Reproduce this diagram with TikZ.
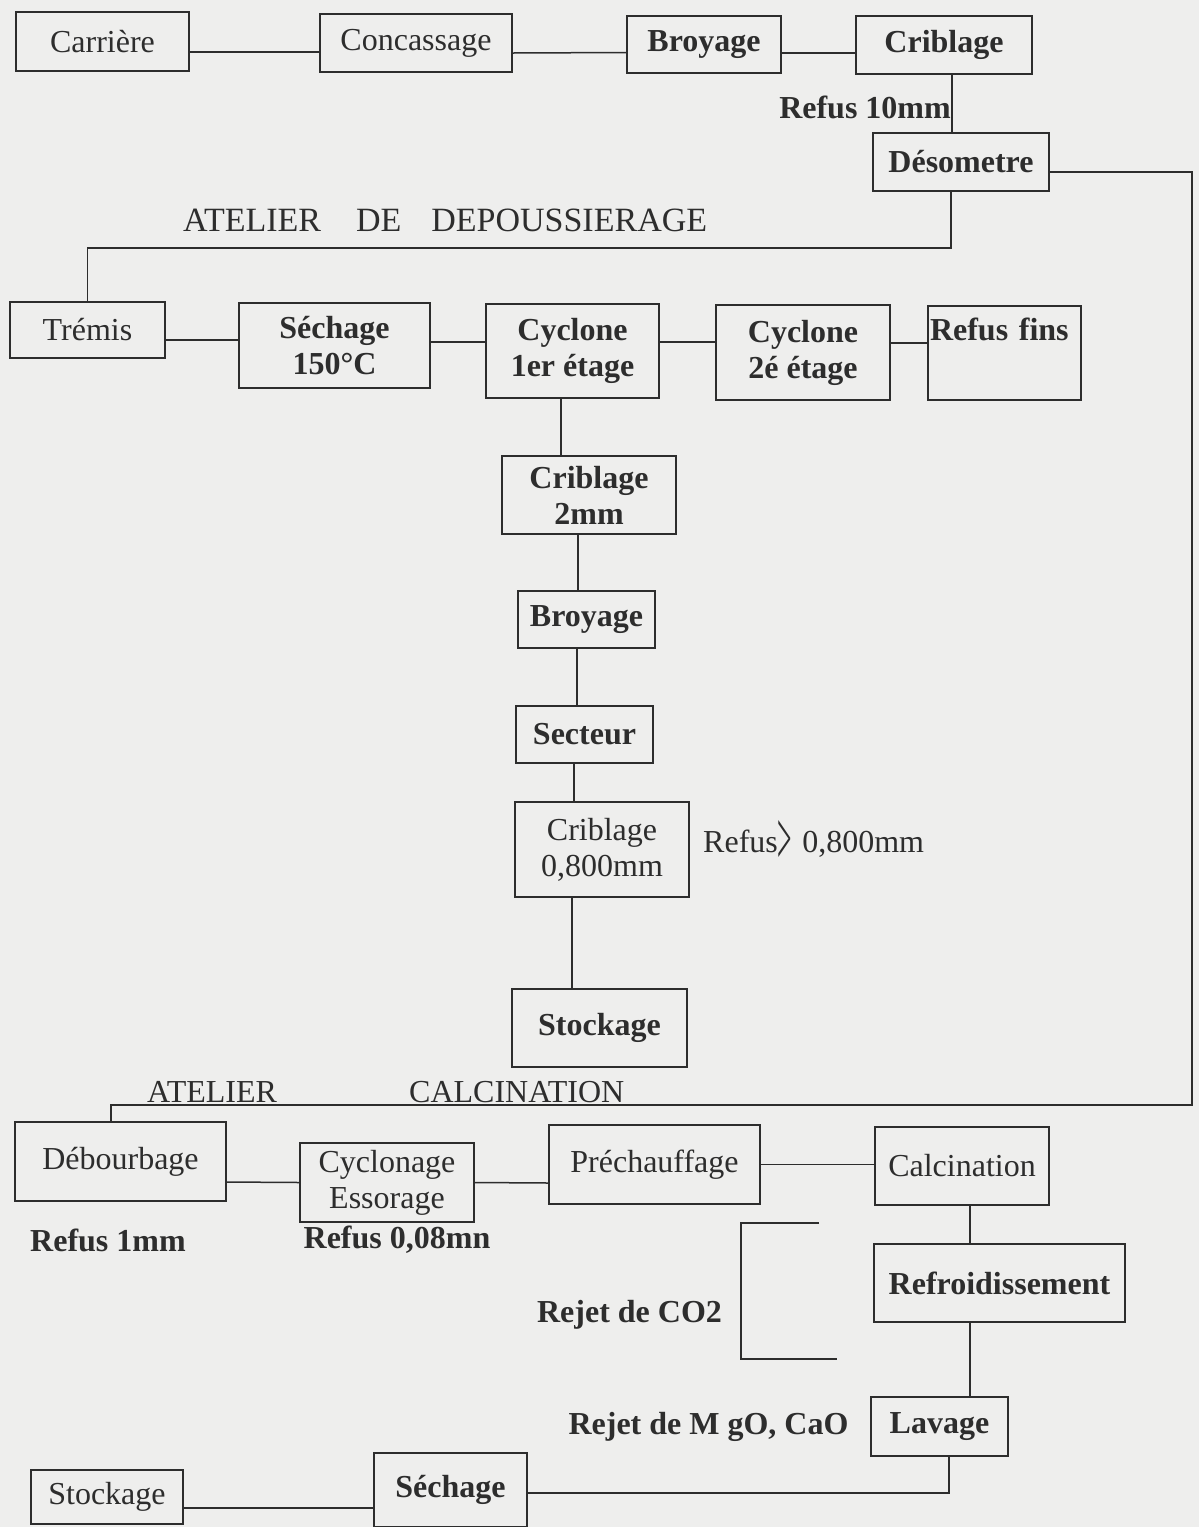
\documentclass[tikz,border=0pt]{standalone}
\usepackage{fontspec}
\setmainfont{Liberation Serif}
\usepackage{graphicx}
\usepackage{tikz}
\definecolor{paper}{RGB}{238,238,237}
\definecolor{ink}{RGB}{45,45,45}

\begin{document}
\begin{tikzpicture}[x=1pt, y=-1pt,
    box/.style={draw=ink, line width=1.5pt, inner sep=0pt, text=ink, align=center,
        font=\fontsize{32}{36}\selectfont},
    bbox/.style={box, font=\fontsize{32}{36}\selectfont\bfseries},
    lbl/.style={inner sep=0pt, text=ink, font=\fontsize{32}{36}\selectfont},
    blbl/.style={lbl, font=\fontsize{32}{36}\selectfont\bfseries},
    wire/.style={draw=ink, line width=1.5pt}]

% Paper
\fill[paper] (0,0) rectangle (1199,1527);
\useasboundingbox (0,0) rectangle (1199,1527);

% Top row
\node[box, minimum width=173pt, minimum height=59pt] (carriere) at (102.5,41.5) {Carrière};
\node[box, minimum width=192pt, minimum height=58pt] (concassage) at (416,43) {Concassage};
\node[bbox, minimum width=154pt, minimum height=57pt] (broyageA) at (704,44.5) {Broyage};
\node[bbox, minimum width=176pt, minimum height=58pt] (criblageA) at (944,45) {Criblage};
\draw[wire] ([yshift=-10.5pt]carriere.east) -- ([yshift=-9pt]concassage.west);
\draw[wire] ([yshift=-10pt]concassage.east) -- ([yshift=-8pt]broyageA.west);
\draw[wire] ([yshift=-8.5pt]broyageA.east) -- ([yshift=-8pt]criblageA.west);

% Desometre
\node[bbox, minimum width=176pt, minimum height=58pt] (desometre) at (961,162) {Désometre};
\node[blbl, anchor=east] (refusdix) at (951,107) {Refus 10mm};
\draw[wire] ([xshift=8pt]criblageA.south) -- ([xshift=-9pt]desometre.north);

% Atelier de depoussierage
\node[lbl, anchor=west, font=\fontsize{34}{38}\selectfont] (atelierdep) at (183,220)
    {ATELIER\hspace{35pt}DE\hspace{30pt}DEPOUSSIERAGE};
\node[box, minimum width=155pt, minimum height=56pt] (tremis) at (87.5,330) {Trémis};
\node[bbox, minimum width=191pt, minimum height=85pt] (sechageA) at (334.5,345.5) {Séchage\\150°C};
\node[bbox, minimum width=173pt, minimum height=94pt] (cycloneA) at (572.5,351) {Cyclone\\1er étage};
\node[bbox, minimum width=174pt, minimum height=95pt] (cycloneB) at (803,352.5) {Cyclone\\2é étage};
\node[bbox, minimum width=153pt, minimum height=94pt, text width=149pt, align=left] (refusfins)
    at (1004.5,353) {Refus fins\\\strut};
\draw[wire] ([xshift=-10pt]desometre.south) -- ++(0,56) -| (tremis.north);
\draw[wire] ([yshift=-10pt]tremis.east) -- ([yshift=5.5pt]sechageA.west);
\draw[wire] ([yshift=3.5pt]sechageA.east) -- ([yshift=9pt]cycloneA.west);
\draw[wire] ([yshift=9pt]cycloneA.east) -- ([yshift=10.5pt]cycloneB.west);
\draw[wire] ([yshift=9.5pt]cycloneB.east) -- ([yshift=10pt]refusfins.west);

% Column below the cyclone
\node[bbox, minimum width=174pt, minimum height=78pt] (criblageB) at (589,495) {Criblage\\2mm};
\node[bbox, minimum width=137pt, minimum height=57pt] (broyageB) at (586.5,619.5) {Broyage};
\node[bbox, minimum width=137pt, minimum height=57pt] (secteur) at (584.5,734.5) {Secteur};
\node[box, minimum width=174pt, minimum height=95pt] (criblageC) at (602,849.5) {Criblage\\0,800mm};
\node[bbox, minimum width=175pt, minimum height=78pt] (stockageA) at (599.5,1028) {Stockage};
\node[lbl, anchor=west] (refusC) at (703,842)
    {Refus\raisebox{-0.36em}{\scalebox{0.8}[2.4]{>}}\hspace{10pt}0,800mm};
\draw[wire] ([xshift=-11.5pt]cycloneA.south) -- ([xshift=-28pt]criblageB.north);
\draw[wire] ([xshift=-11pt]criblageB.south) -- ([xshift=-8.5pt]broyageB.north);
\draw[wire] ([xshift=-9.5pt]broyageB.south) -- ([xshift=-7.5pt]secteur.north);
\draw[wire] ([xshift=-10.5pt]secteur.south) -- ([xshift=-28pt]criblageC.north);
\draw[wire] ([xshift=-30pt]criblageC.south) -- ([xshift=-27.5pt]stockageA.north);

% Atelier calcination
\node[lbl, anchor=west] (atelierA) at (147,1092) {ATELIER};
\node[lbl, anchor=west] (calcin) at (409,1092) {CALCINATION};
\node[box, minimum width=211pt, minimum height=79pt] (debourbage) at (120.5,1161.5) {Débourbage};
\node[box, minimum width=174pt, minimum height=79pt] (cyclonage) at (387,1182.5) {Cyclonage\\Essorage};
\node[box, minimum width=211pt, minimum height=79pt] (prechauffage) at (654.5,1164.5) {Préchauffage};
\node[box, minimum width=174pt, minimum height=78pt] (calcination) at (962,1166) {Calcination};
\node[bbox, minimum width=251pt, minimum height=78pt] (refroid) at (999.5,1283) {Refroidissement};
\node[bbox, minimum width=137pt, minimum height=59pt] (lavage) at (939.5,1426.5) {Lavage};
\node[blbl] (refusun) at (108,1240) {Refus 1mm};
\node[blbl] (refuszero) at (397,1240) {Refus 0,08mn};
\node[blbl] (rejetco) at (629.5,1315) {Rejet de CO2};
\node[blbl] (rejetmg) at (708.5,1427) {Rejet de M gO, CaO};
\coordinate (coin) at (1192,1105);
\draw[wire] ([yshift=-10pt]desometre.east) -| (coin) -| ([xshift=-9.5pt]debourbage.north);
\draw[wire] ([yshift=-20.5pt]debourbage.east) -- (cyclonage.west);
\draw[wire] (cyclonage.east) -- ([yshift=-18.5pt]prechauffage.west);
\draw[wire] (prechauffage.east) -- (prechauffage.east -| calcination.west);
\draw[wire] ([xshift=8pt]calcination.south) -- ([xshift=-29.5pt]refroid.north);
\draw[wire] ([xshift=-29.5pt]refroid.south) -- ([xshift=30.5pt]lavage.north);

% CO2 bracket
\draw[wire] (819,1223) -- (741,1223) -- (741,1359) -- (837,1359);

% Bottom row
\node[box, minimum width=152pt, minimum height=54pt] (stockageB) at (107,1497) {Stockage};
\node[bbox, minimum width=153pt, minimum height=74pt] (sechageB) at (450.5,1490) {Séchage};
\draw[wire] ([xshift=9.5pt]lavage.south) |- ([yshift=-3pt]sechageB.east);
\draw[wire] ([yshift=-18pt]sechageB.west) -- ([yshift=-11pt]stockageB.east);

\end{tikzpicture}
\end{document}
